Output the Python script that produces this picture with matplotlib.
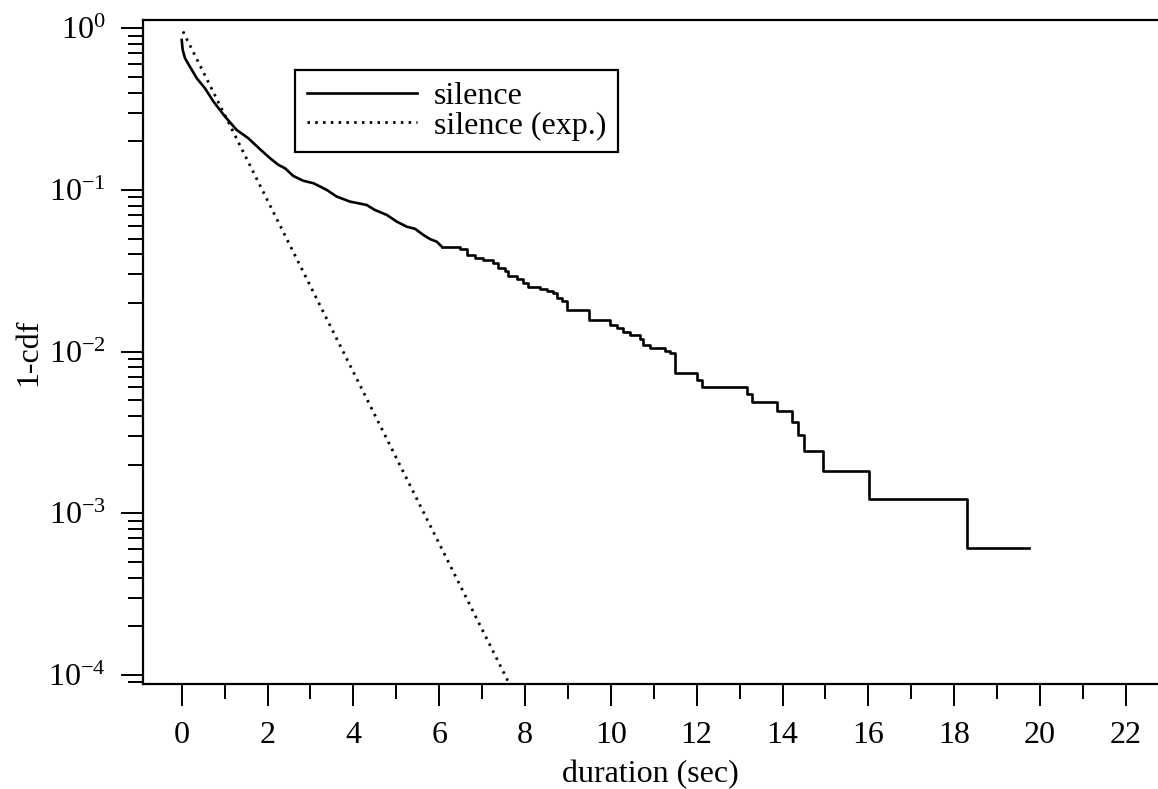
import matplotlib
matplotlib.use("Agg")
import matplotlib.pyplot as plt
from matplotlib.ticker import FixedLocator, LogLocator, NullFormatter

plt.rcParams['font.family'] = ['Liberation Serif', 'DejaVu Serif']
plt.rcParams['mathtext.fontset'] = 'custom'
plt.rcParams['mathtext.rm'] = 'Liberation Serif'
plt.rcParams['mathtext.it'] = 'Liberation Serif:italic'

# ---- data ----
# measured complementary CDF, smooth (dense) part
dur_smooth = [0.00, 0.023, 0.077, 0.19, 0.35, 0.54, 0.74, 1.01, 1.28, 1.55, 1.82,
              2.06, 2.25, 2.41, 2.60, 2.83, 3.07, 3.38, 3.61, 3.92, 4.31, 4.50,
              4.78, 5.01, 5.24, 5.44, 5.63, 5.79, 5.94, 6.06]
ccdf_smooth = [0.847, 0.734, 0.652, 0.579, 0.491, 0.426, 0.352, 0.284, 0.235, 0.209, 0.179,
               0.157, 0.143, 0.136, 0.122, 0.114, 0.110, 0.100, 0.091, 0.0847, 0.0807, 0.0752,
               0.0700, 0.0637, 0.0593, 0.0574, 0.0527, 0.0496, 0.0479, 0.0446]
# measured complementary CDF, stepped tail (value holds from each x to the next)
dur_step = [6.06, 6.49, 6.64, 6.84, 7.03, 7.26, 7.38, 7.53, 7.61, 7.81, 7.96, 8.08,
            8.35, 8.51, 8.66, 8.74, 8.86, 8.97, 9.48, 9.98, 10.14, 10.29, 10.45,
            10.68, 10.76, 10.91, 11.26, 11.38, 11.50, 12.00, 12.12, 13.17, 13.28,
            13.87, 14.22, 14.37, 14.49, 14.94, 16.02, 18.29, 19.75]
ccdf_step = [0.0446, 0.0430, 0.0396, 0.0378, 0.0366, 0.0352, 0.0328, 0.0313, 0.0294,
             0.0280, 0.0265, 0.0252, 0.0245, 0.0237, 0.0232, 0.0214, 0.0207, 0.0181,
             0.0157, 0.0146, 0.0140, 0.0133, 0.0127, 0.0119, 0.0110, 0.0105, 0.0101,
             0.00977, 0.00741, 0.0067, 0.00608, 0.0055, 0.00491, 0.00432, 0.00366,
             0.00303, 0.00243, 0.00183, 0.00122, 0.00061, 0.00061]
# exponential fit: straight line on the log axis between its two ends
dur_exp = [0.03, 7.80]
ccdf_exp = [0.955, 7.2e-5]

x_major = [0, 2, 4, 6, 8, 10, 12, 14, 16, 18, 20, 22]
x_minor = [1, 3, 5, 7, 9, 11, 13, 15, 17, 19, 21]
y_major = [1e0, 1e-1, 1e-2, 1e-3, 1e-4]
y_labels = [r'$10^{0}$', r'$10^{-1}$', r'$10^{-2}$', r'$10^{-3}$', r'$10^{-4}$']

W, H = 1158, 789
fig = plt.figure(figsize=(W / 100, H / 100), dpi=100)
left, right, top, bottom = 143.3, 1158, 20, 684
ax = fig.add_axes([left / W, (H - bottom) / H, (right - left) / W, (bottom - top) / H])

lw = 1.9
ax.plot(dur_smooth, ccdf_smooth, color='black', lw=lw, label='silence',
        solid_joinstyle='miter')
ax.plot(dur_step, ccdf_step, color='black', lw=lw, drawstyle='steps-post')
ax.plot(dur_exp, ccdf_exp, color='black', lw=2.0, linestyle=(0, (0.9, 1.9)),
        label='silence (exp.)')

ax.set_yscale('log')
ax.set_xlim(-0.895, 22.75)
ax.set_ylim(10 ** -4.056, 10 ** 0.051)

ax.xaxis.set_major_locator(FixedLocator(x_major))
ax.xaxis.set_minor_locator(FixedLocator(x_minor))
ax.set_xticklabels([str(v) for v in x_major])
ax.yaxis.set_major_locator(FixedLocator(y_major))
ax.set_yticklabels(y_labels)
ax.yaxis.set_minor_locator(LogLocator(base=10, subs=range(2, 10), numticks=20))
ax.yaxis.set_minor_formatter(NullFormatter())

for s in ['left', 'bottom', 'top']:
    ax.spines[s].set_linewidth(1.6)
ax.spines['right'].set_visible(False)

ax.tick_params(which='major', direction='out', length=15.8, width=1.4,
               labelsize=23, pad=11, top=False, right=False)
ax.tick_params(which='minor', direction='out', length=10.8, width=1.4,
               top=False, right=False)

ax.set_xlabel('duration (sec)', fontsize=23, labelpad=7)
ax.set_ylabel('1-cdf', fontsize=23, labelpad=4)

leg = ax.legend(loc='upper left', bbox_to_anchor=((295 - left) / (right - left), (bottom - 70) / (bottom - top)),
                borderaxespad=0, fontsize=23, frameon=True, fancybox=False,
                edgecolor='black', handlelength=3.45, handletextpad=0.53,
                labelspacing=0.0, borderpad=0.37)
leg.get_frame().set_linewidth(1.6)
leg.get_frame().set_alpha(1)

fig.savefig('out.png', dpi=100)
